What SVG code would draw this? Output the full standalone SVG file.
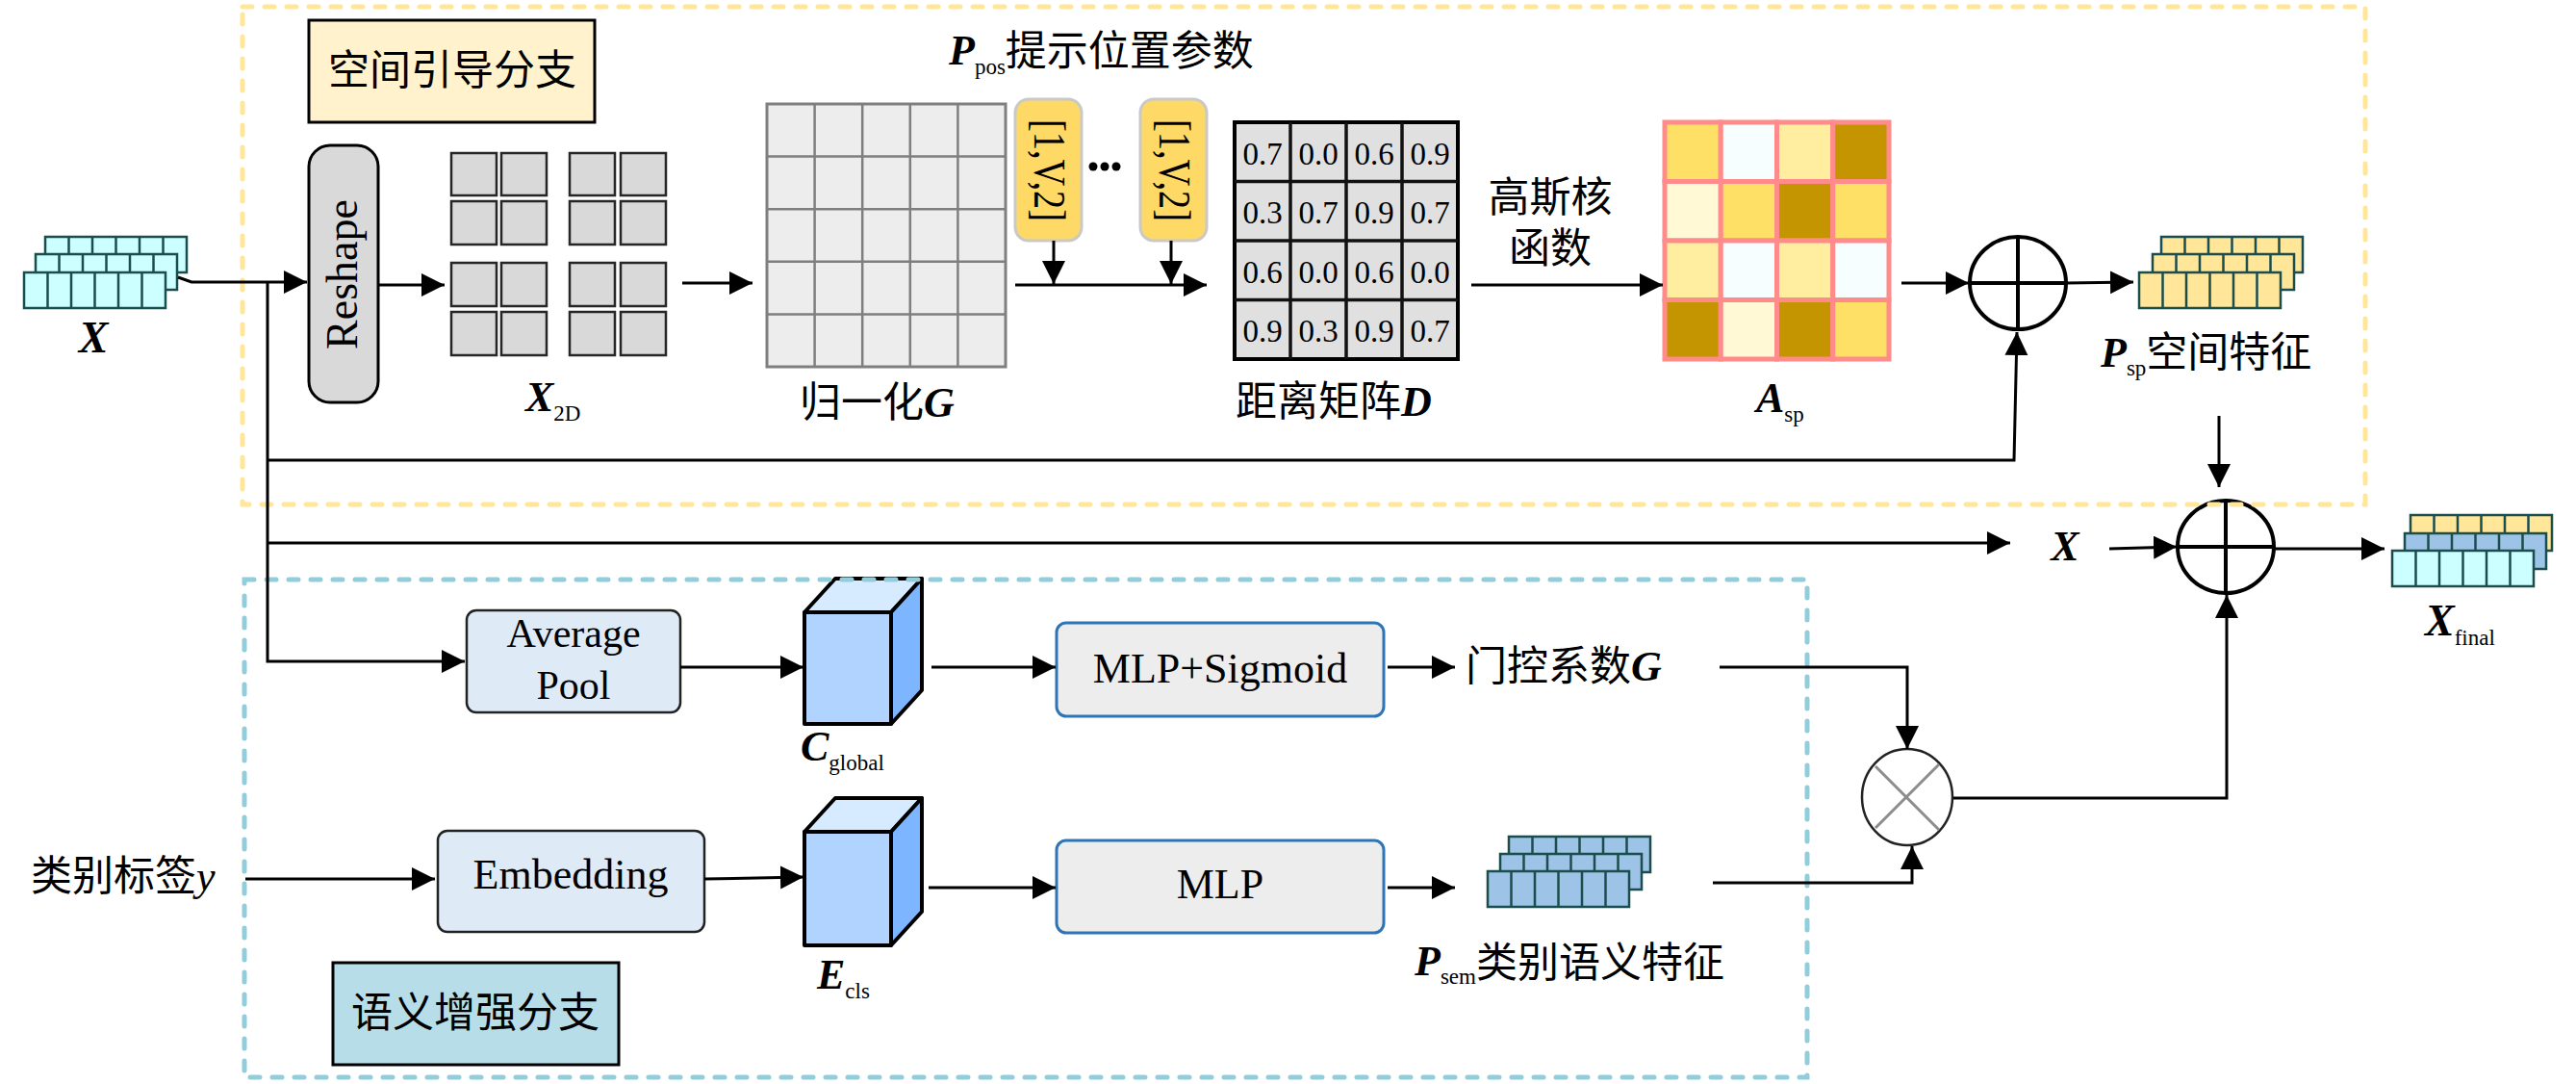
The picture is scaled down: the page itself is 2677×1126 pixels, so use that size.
<svg xmlns="http://www.w3.org/2000/svg" xmlns:xlink="http://www.w3.org/1999/xlink" width="2677" height="1126" viewBox="0 0 2677 1126">
<style>
.ln{fill:none;stroke:#000;stroke-width:3}
.arr{marker-end:url(#ah)}
.t{font-family:"Liberation Serif","Noto Sans CJK SC",serif;fill:#000}
.cjk{font-size:43px}
.m{font-style:italic;font-weight:bold}
.sub{font-size:23px;font-style:normal;font-weight:normal}
.cell{stroke:#1B4D4D;stroke-width:2.5}
.div{stroke:#1B4D4D;stroke-width:2.5}
.x2d{fill:#D9D9D9;stroke:#262626;stroke-width:2.5}
.box{stroke:#222;stroke-width:2.5}
.blue{fill:#EDEDED;stroke:#2E75B6;stroke-width:3}
.cube{stroke:#000;stroke-width:4;stroke-linejoin:round}
.op{fill:#fff;stroke:#000;stroke-width:4}
</style>
<defs>
<marker id="ah" markerUnits="userSpaceOnUse" markerWidth="26" markerHeight="26" refX="24" refY="12" orient="auto">
<path d="M0,0 L24,12 L0,24 z" fill="#000"/>
</marker>
<g id="rowC"><rect class="cell" x="0" y="0" width="147" height="37" fill="#CCFFFF"/><path class="div" d="M24.5,0V37M49,0V37M73.5,0V37M98,0V37M122.5,0V37"/></g>
<g id="rowY"><rect class="cell" x="0" y="0" width="147" height="37" fill="#FFE699"/><path class="div" d="M24.5,0V37M49,0V37M73.5,0V37M98,0V37M122.5,0V37"/></g>
<g id="rowB"><rect class="cell" x="0" y="0" width="147" height="37" fill="#9DC3E6"/><path class="div" d="M24.5,0V37M49,0V37M73.5,0V37M98,0V37M122.5,0V37"/></g>
</defs>
<rect width="2677" height="1126" fill="#fff"/>

<g id="title-spatial">
<rect x="321" y="21" width="297" height="106" fill="#FFF2CC" stroke="#000" stroke-width="3"/>
<text class="t cjk" x="470" y="88" text-anchor="middle">空间引导分支</text>
</g>

<g id="input-X">
<use href="#rowC" x="47" y="246"/>
<use href="#rowC" x="37" y="264"/>
<use href="#rowC" x="25" y="283"/>
<text class="t m" x="97" y="366" font-size="46" text-anchor="middle">X</text>
</g>

<g id="reshape">
<rect x="321" y="151" width="72" height="267" rx="22" fill="#D9D9D9" stroke="#000" stroke-width="3"/>
<text class="t" transform="translate(371,285) rotate(-90)" font-size="46" text-anchor="middle">Reshape</text>
</g>

<g id="X2D">
<rect class="x2d" x="469" y="159" width="47" height="44"/><rect class="x2d" x="521" y="159" width="47" height="44"/>
<rect class="x2d" x="469" y="209" width="47" height="45"/><rect class="x2d" x="521" y="209" width="47" height="45"/>
<rect class="x2d" x="592" y="159" width="47" height="44"/><rect class="x2d" x="645" y="159" width="47" height="44"/>
<rect class="x2d" x="592" y="209" width="47" height="45"/><rect class="x2d" x="645" y="209" width="47" height="45"/>
<rect class="x2d" x="469" y="273" width="47" height="45"/><rect class="x2d" x="521" y="273" width="47" height="45"/>
<rect class="x2d" x="469" y="324" width="47" height="45"/><rect class="x2d" x="521" y="324" width="47" height="45"/>
<rect class="x2d" x="592" y="273" width="47" height="45"/><rect class="x2d" x="645" y="273" width="47" height="45"/>
<rect class="x2d" x="592" y="324" width="47" height="45"/><rect class="x2d" x="645" y="324" width="47" height="45"/>
<text class="t m" x="546" y="427" font-size="44">X<tspan class="sub" dy="10">2D</tspan></text>
</g>

<g id="norm-G">
<rect x="797" y="108" width="248" height="273" fill="#EDEDED" stroke="#7F7F7F" stroke-width="3"/>
<path d="M846.6,108V381M896.2,108V381M945.8,108V381M995.4,108V381M797,162.6H1045M797,217.2H1045M797,271.8H1045M797,326.4H1045" stroke="#7F7F7F" stroke-width="2.5" fill="none"/>
<text class="t cjk" x="831" y="433">归一化<tspan class="m" font-size="44">G</tspan></text>
</g>

<g id="P-pos">
<text class="t m" x="986" y="67" font-size="44">P<tspan class="sub" dy="10">pos</tspan><tspan class="cjk" dy="-9" style="font-style:normal;font-weight:normal">提示位置参数</tspan></text>
<rect x="1055" y="103" width="69" height="147" rx="14" fill="#FFD966" stroke="#C9C9C9" stroke-width="3"/>
<text class="t" transform="translate(1075,177) rotate(90)" font-size="46" text-anchor="middle" textLength="106" lengthAdjust="spacingAndGlyphs">[1,V,2]</text>
<circle cx="1136" cy="173" r="4.5"/><circle cx="1148" cy="173" r="4.5"/><circle cx="1160" cy="173" r="4.5"/>
<rect x="1185" y="103" width="69" height="147" rx="14" fill="#FFD966" stroke="#C9C9C9" stroke-width="3"/>
<text class="t" transform="translate(1205,177) rotate(90)" font-size="46" text-anchor="middle" textLength="106" lengthAdjust="spacingAndGlyphs">[1,V,2]</text>
</g>

<g id="dist-D">
<rect x="1283" y="127" width="232" height="246" fill="#E0E0E0" stroke="#000" stroke-width="4"/>
<path d="M1341,127V373M1399,127V373M1457,127V373M1283,188.5H1515M1283,250H1515M1283,311.5H1515" stroke="#111" stroke-width="3.5" fill="none"/>
<g class="t" font-size="33" text-anchor="middle">
<text x="1312" y="171">0.7</text><text x="1370" y="171">0.0</text><text x="1428" y="171">0.6</text><text x="1486" y="171">0.9</text>
<text x="1312" y="232">0.3</text><text x="1370" y="232">0.7</text><text x="1428" y="232">0.9</text><text x="1486" y="232">0.7</text>
<text x="1312" y="294">0.6</text><text x="1370" y="294">0.0</text><text x="1428" y="294">0.6</text><text x="1486" y="294">0.0</text>
<text x="1312" y="355">0.9</text><text x="1370" y="355">0.3</text><text x="1428" y="355">0.9</text><text x="1486" y="355">0.7</text>
</g>
<text class="t cjk" x="1284" y="432">距离矩阵<tspan class="m" font-size="44">D</tspan></text>
</g>

<g id="gauss-label">
<text class="t cjk" x="1611" y="220" text-anchor="middle">高斯核</text>
<text class="t cjk" x="1611" y="273" text-anchor="middle">函数</text>
</g>

<g id="A-sp">
<g stroke="#FF8B8B" stroke-width="5">
<rect x="1730" y="127" width="58.25" height="61.5" fill="#FFE066"/><rect x="1788.25" y="127" width="58.25" height="61.5" fill="#F7FEFF"/><rect x="1846.5" y="127" width="58.25" height="61.5" fill="#FFEDA0"/><rect x="1904.75" y="127" width="58.25" height="61.5" fill="#C49500"/>
<rect x="1730" y="188.5" width="58.25" height="61.5" fill="#FFF9D6"/><rect x="1788.25" y="188.5" width="58.25" height="61.5" fill="#FFE066"/><rect x="1846.5" y="188.5" width="58.25" height="61.5" fill="#C49500"/><rect x="1904.75" y="188.5" width="58.25" height="61.5" fill="#FFE066"/>
<rect x="1730" y="250" width="58.25" height="61.5" fill="#FFEDA0"/><rect x="1788.25" y="250" width="58.25" height="61.5" fill="#F7FEFF"/><rect x="1846.5" y="250" width="58.25" height="61.5" fill="#FFEDA0"/><rect x="1904.75" y="250" width="58.25" height="61.5" fill="#F7FEFF"/>
<rect x="1730" y="311.5" width="58.25" height="61.5" fill="#C49500"/><rect x="1788.25" y="311.5" width="58.25" height="61.5" fill="#FFF9D6"/><rect x="1846.5" y="311.5" width="58.25" height="61.5" fill="#C49500"/><rect x="1904.75" y="311.5" width="58.25" height="61.5" fill="#FFE066"/>
</g>
<text class="t m" x="1825" y="428" font-size="44">A<tspan class="sub" dy="10">sp</tspan></text>
</g>

<g id="add-sp">
<ellipse class="op" cx="2097" cy="294" rx="50" ry="48"/>
<path d="M2097,246V342M2047,294H2147" stroke="#000" stroke-width="4"/>
</g>

<g id="P-sp">
<use href="#rowY" x="2246" y="246"/>
<use href="#rowY" x="2237" y="264"/>
<use href="#rowY" x="2223" y="283"/>
<text class="t m" x="2183" y="381" font-size="44">P<tspan class="sub" dy="9">sp</tspan><tspan class="cjk" dy="-9" style="font-style:normal;font-weight:normal">空间特征</tspan></text>
</g>

<g id="X-label">
<text class="t m" x="2146" y="582" font-size="44" text-anchor="middle">X</text>
</g>

<g id="add-final">
<ellipse class="op" cx="2313" cy="568" rx="50" ry="48"/>
<path d="M2313,520V616M2263,568H2363" stroke="#000" stroke-width="4"/>
</g>

<g id="X-final">
<use href="#rowY" x="2505" y="535"/>
<use href="#rowB" x="2499" y="554"/>
<use href="#rowC" x="2486" y="572"/>
<text class="t m" x="2520" y="660" font-size="46">X<tspan class="sub" dy="10">final</tspan></text>
</g>

<g id="avg-pool">
<rect class="box" x="485" y="634" width="222" height="106" rx="10" fill="#DEEBF7"/>
<text class="t" x="596" y="672" font-size="42" text-anchor="middle">Average</text>
<text class="t" x="596" y="726" font-size="42" text-anchor="middle">Pool</text>
</g>

<g id="C-global">
<polygon class="cube" points="836,636 926,636 958,601 868,601" fill="#D6EBFF"/>
<polygon class="cube" points="926,636 958,601 958,717 926,752" fill="#7DB5FF"/>
<rect class="cube" x="836" y="636" width="90" height="116" fill="#B0D4FF"/>
<text class="t m" x="832" y="790" font-size="44">C<tspan class="sub" dy="10">global</tspan></text>
</g>

<g id="mlp-sigmoid">
<rect class="blue" x="1098" y="647" width="340" height="97" rx="10"/>
<text class="t" x="1268" y="709" font-size="44" text-anchor="middle">MLP+Sigmoid</text>
</g>

<g id="gate-G">
<text class="t cjk" x="1523" y="707">门控系数<tspan class="m" font-size="44">G</tspan></text>
</g>

<g id="class-label">
<text class="t cjk" x="32" y="925">类别标签<tspan font-style="italic" font-size="44">y</tspan></text>
</g>

<g id="embedding">
<rect class="box" x="455" y="863" width="277" height="105" rx="10" fill="#DEEBF7"/>
<text class="t" x="593" y="923" font-size="44" text-anchor="middle">Embedding</text>
</g>

<g id="E-cls">
<polygon class="cube" points="836,864 926,864 958,829 868,829" fill="#D6EBFF"/>
<polygon class="cube" points="926,864 958,829 958,947 926,982" fill="#7DB5FF"/>
<rect class="cube" x="836" y="864" width="90" height="118" fill="#B0D4FF"/>
<text class="t m" x="849" y="1027" font-size="44">E<tspan class="sub" dy="10">cls</tspan></text>
</g>

<g id="mlp">
<rect class="blue" x="1098" y="873" width="340" height="96" rx="10"/>
<text class="t" x="1268" y="933" font-size="44" text-anchor="middle">MLP</text>
</g>

<g id="P-sem">
<use href="#rowB" x="1568" y="869"/>
<use href="#rowB" x="1559" y="887"/>
<use href="#rowB" x="1546" y="905"/>
<text class="t m" x="1470" y="1013" font-size="44">P<tspan class="sub" dy="9">sem</tspan><tspan class="cjk" dy="-7" style="font-style:normal;font-weight:normal">类别语义特征</tspan></text>
</g>

<g id="title-semantic">
<rect x="346" y="1000" width="297" height="106" fill="#B7DEE8" stroke="#000" stroke-width="3"/>
<text class="t cjk" x="494" y="1067" text-anchor="middle">语义增强分支</text>
</g>

<g id="mul">
<ellipse cx="1982" cy="828" rx="47" ry="50" fill="#fff" stroke="#222" stroke-width="2.5"/>
<path d="M1949,796L2015,862M2015,794L1949,860" stroke="#8C8C8C" stroke-width="3"/>
</g>

<g id="branch-frames" fill="none" stroke-width="5" stroke-linecap="round">
<rect x="252" y="7" width="2206" height="517" stroke="#FFE699" stroke-dasharray="10 13"/>
<rect x="254" y="602" width="1624" height="517" stroke="#92CDDC" stroke-dasharray="10 13"/>
</g>

<g id="connectors">
<path class="ln arr" d="M185,288L199,293L319,293"/>
<path class="ln arr" d="M278,293V687H483"/>
<path class="ln arr" d="M278,478H2093L2096,345"/>
<path class="ln arr" d="M278,564H2089"/>
<path class="ln arr" d="M393,296H462"/>
<path class="ln arr" d="M709,294H782"/>
<path class="ln arr" d="M1055,296H1254"/>
<path class="ln arr" d="M1095,250V295"/>
<path class="ln arr" d="M1217,250V295"/>
<path class="ln arr" d="M1529,296H1728"/>
<path class="ln arr" d="M1976,294H2046"/>
<path class="ln arr" d="M2147,294L2217,293"/>
<path class="ln arr" d="M2306,432V506"/>
<path class="ln arr" d="M2192,570L2262,568"/>
<path class="ln arr" d="M2363,570H2478"/>
<path class="ln arr" d="M707,693H835"/>
<path class="ln arr" d="M968,693H1097"/>
<path class="ln arr" d="M1442,693H1512"/>
<path class="ln arr" d="M1787,693H1982V778"/>
<path class="ln arr" d="M255,913H452"/>
<path class="ln arr" d="M732,913L835,911"/>
<path class="ln arr" d="M965,922H1097"/>
<path class="ln arr" d="M1442,922H1512"/>
<path class="ln arr" d="M1780,917H1987V879" stroke-width="5"/>
<path class="ln arr" d="M2030,829H2314V618"/>
</g>
</svg>
